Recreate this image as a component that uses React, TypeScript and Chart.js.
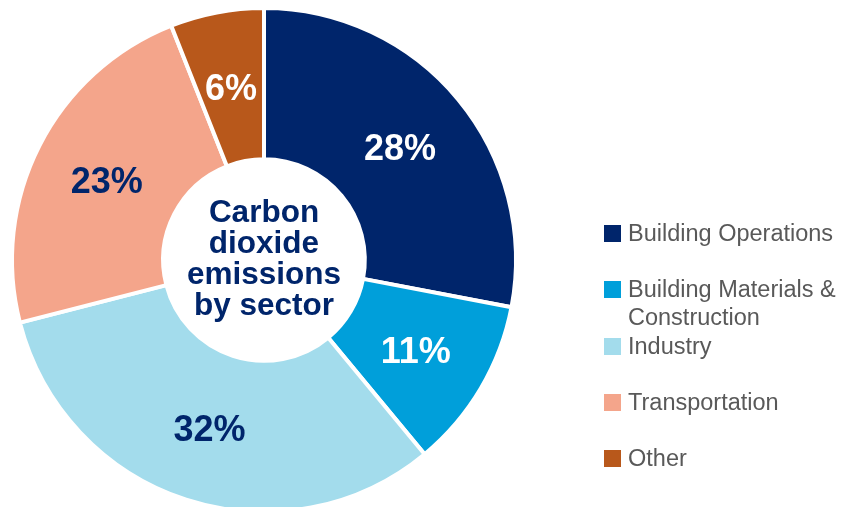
import React, { useEffect, useRef } from "react";
import { Chart, registerables } from "chart.js";

Chart.register(...registerables);

const categories = [
  "Building Operations",
  "Building Materials & Construction",
  "Industry",
  "Transportation",
  "Other",
];
const values = [28, 11, 32, 23, 6];
const sliceLabels = ["28%", "11%", "32%", "23%", "6%"];
const colors = ["#00256B", "#009FDA", "#A3DCEC", "#F4A58B", "#B8581B"];
const sliceLabelColors = ["#FFFFFF", "#FFFFFF", "#00256B", "#00256B", "#FFFFFF"];
const centerLines = ["Carbon", "dioxide", "emissions", "by sector"];
const legendLines = [
  ["Building Operations"],
  ["Building Materials &", "Construction"],
  ["Industry"],
  ["Transportation"],
  ["Other"],
];
const legendTops = [219, 275, 332, 388, 444];
const legendSquareTops = [225, 281, 338, 394, 450];

const FONT = "'Liberation Sans', Arial, sans-serif";

const labelPlugin = {
  id: "sliceLabels",
  afterDatasetsDraw(chart: any) {
    const ctx = chart.ctx;
    const meta = chart.getDatasetMeta(0);
    ctx.save();
    ctx.textAlign = "center";
    ctx.textBaseline = "middle";
    ctx.font = `bold 36px ${FONT}`;
    meta.data.forEach((el: any, i: number) => {
      const p = el.tooltipPosition();
      ctx.fillStyle = sliceLabelColors[i];
      ctx.fillText(sliceLabels[i], p.x, p.y + 3);
    });
    const first = meta.data[0];
    const cx = first.x;
    const cy = first.y;
    ctx.font = `bold 31.5px ${FONT}`;
    ctx.textBaseline = "alphabetic";
    ctx.fillStyle = "#00256B";
    centerLines.forEach((line, i) => {
      ctx.fillText(line, cx, cy - 38 + i * 31);
    });
    ctx.restore();
  },
};

export default function App() {
  const ref = useRef<HTMLCanvasElement | null>(null);
  useEffect(() => {
    if (!ref.current) return;
    const chart = new Chart(ref.current, {
      type: "doughnut",
      data: {
        labels: categories,
        datasets: [
          {
            data: values,
            backgroundColor: colors,
            borderColor: "#FFFFFF",
            borderWidth: 4,
          },
        ],
      },
      options: {
        responsive: false,
        animation: false,
        cutout: "40%",
        rotation: 0,
        layout: { padding: { left: 10, top: 6, right: 332, bottom: 6 } },
        plugins: {
          legend: { display: false },
          tooltip: { enabled: false },
          title: { display: false },
        },
      },
      plugins: [labelPlugin],
    });
    return () => chart.destroy();
  }, []);

  return (
    <div
      style={{
        position: "fixed",
        left: 0,
        top: 0,
        width: 850,
        height: 507,
        overflow: "hidden",
        background: "#FFFFFF",
      }}
    >
      <canvas
        ref={ref}
        width={850}
        height={520}
        style={{ position: "absolute", left: 0, top: 0, width: 850, height: 520 }}
      />
      {legendLines.map((lines, i) => (
        <React.Fragment key={i}>
          <div
            style={{
              position: "absolute",
              left: 604,
              top: legendSquareTops[i],
              width: 17,
              height: 17,
              background: colors[i],
            }}
          />
          <div
            style={{
              position: "absolute",
              left: 628,
              top: legendTops[i],
              fontFamily: FONT,
              fontSize: 23.5,
              lineHeight: "28px",
              color: "#595959",
              whiteSpace: "nowrap",
            }}
          >
            {lines.map((l, j) => (
              <div key={j}>{l}</div>
            ))}
          </div>
        </React.Fragment>
      ))}
    </div>
  );
}
